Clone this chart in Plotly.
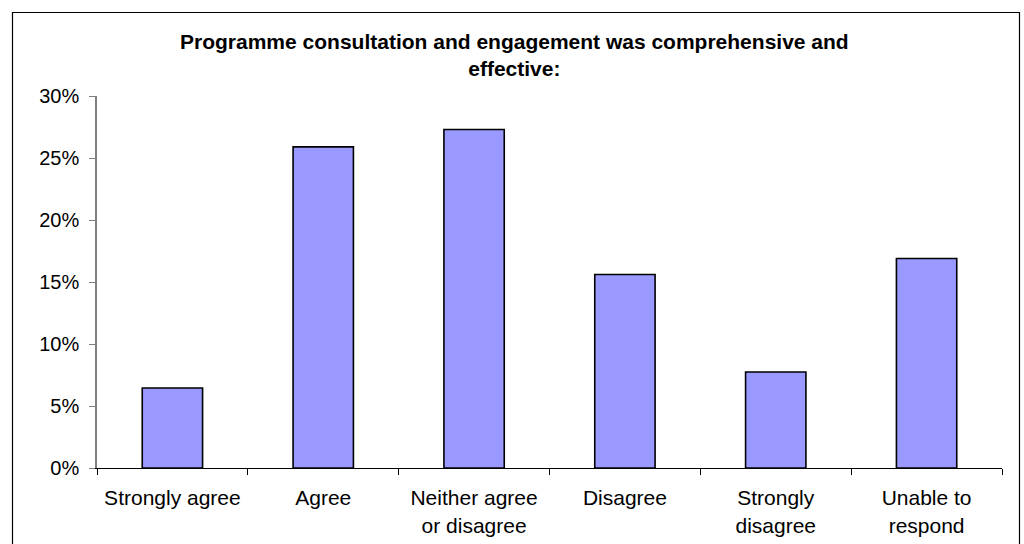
import plotly.graph_objects as go

categories = ["Strongly agree", "Agree", "Neither agree<br>or disagree", "Disagree",
              "Strongly<br>disagree", "Unable to<br>respond"]
shares = [0.0645, 0.259, 0.273, 0.156, 0.0774, 0.169]
y_ticks = [0, 0.05, 0.10, 0.15, 0.20, 0.25, 0.30]
y_tick_labels = ["0%", "5%", "10%", "15%", "20%", "25%", "30%"]
title_text = "Programme consultation and engagement was comprehensive and<br>effective:"

W, H = 1024, 544
L, R, T, B = 97, 22, 96, 76
pw, ph = W - L - R, H - T - B

fig = go.Figure(go.Bar(
    x=categories, y=shares,
    marker=dict(color="#9999FF", line=dict(color="black", width=1.6)),
    width=0.4,
))

# chart-area frame (continues below the bottom of the page)
def px_x(p):
    return (p - L) / pw

def px_y(p):
    return (H - B - p) / ph

fig.add_shape(type="rect", xref="paper", yref="paper",
              x0=px_x(12.5), x1=px_x(1019.5), y0=px_y(560), y1=px_y(12.5),
              line=dict(color="black", width=1.2), fillcolor="rgba(0,0,0,0)", layer="below")

fig.add_annotation(text="<b>" + title_text + "</b>", xref="paper", yref="paper",
                   x=px_x(514), y=px_y(28), xanchor="center", yanchor="top",
                   showarrow=False, align="center",
                   font=dict(size=21, family="Liberation Sans, Arial, sans-serif"))

fig.update_layout(
    width=W, height=H,
    margin=dict(l=L, r=R, t=T, b=B, autoexpand=False),
    paper_bgcolor="white", plot_bgcolor="white",
    font=dict(family="Liberation Sans, Arial, sans-serif", size=20, color="black"),
    showlegend=False,
    xaxis=dict(
        showline=True, linecolor="black", linewidth=1.2,
        ticks="outside", ticklen=6, tickcolor="black", tickwidth=1.2,
        tickson="boundaries", showgrid=False, tickangle=0,
        ticklabelstandoff=11, automargin=False,
        tickfont=dict(size=21),
        range=[-0.5, 5.5],
    ),
    yaxis=dict(
        range=[0, 0.30], tickvals=y_ticks, ticktext=y_tick_labels,
        showline=True, linecolor="#808080", linewidth=1.5,
        ticks="outside", ticklen=6, tickcolor="#808080", tickwidth=1.2,
        showgrid=False, zeroline=False, ticklabelstandoff=6, automargin=False,
        tickfont=dict(size=20),
    ),
)

fig.write_html("out.html")
